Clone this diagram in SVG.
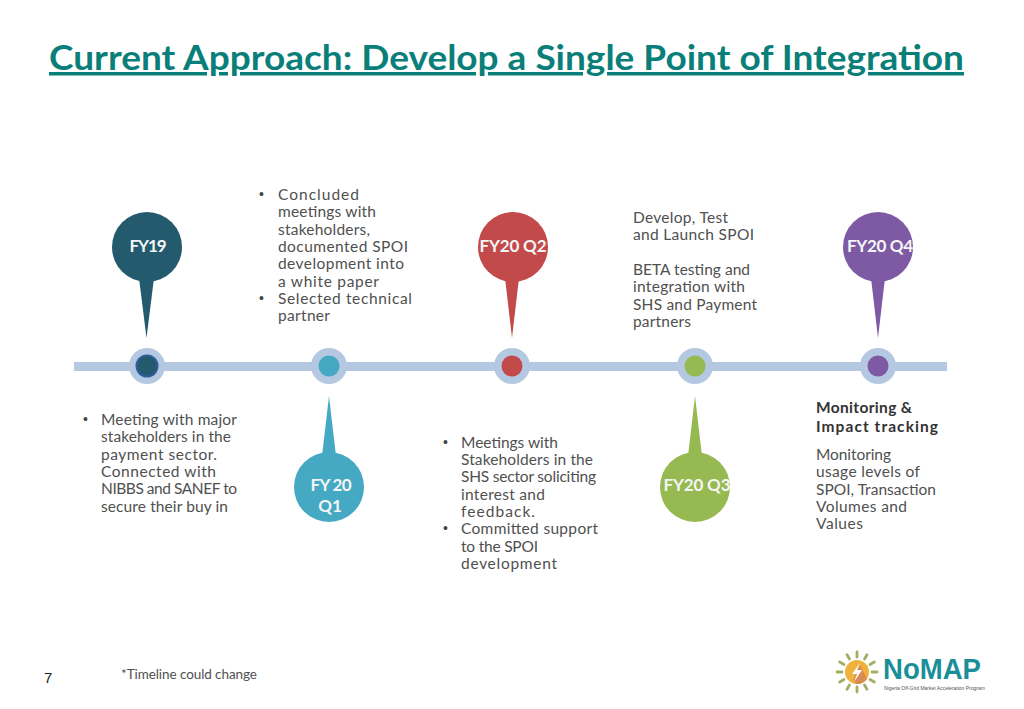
<svg xmlns="http://www.w3.org/2000/svg" width="1024" height="709" viewBox="0 0 1024 709">
<style>
.t{font-family:"Lato","Open Sans",sans-serif;font-size:15.5px;fill:#505050}
.d{font-family:"Liberation Sans",sans-serif;font-size:14px;fill:#444}
.b{font-weight:700;fill:#333}
.p{font-family:"Lato","Open Sans",sans-serif;font-weight:700;font-size:17px;fill:#f4f6f6;text-anchor:middle}
.h{fill:#b4c8e2}
</style>
<rect width="1024" height="709" fill="#fff"/>
<text id="title" x="49" y="70" textLength="915" lengthAdjust="spacingAndGlyphs" style="font-family:'Lato',sans-serif;font-weight:700;font-size:35px;fill:#0a7f7a;text-decoration:underline">Current Approach: Develop a Single Point of Integration</text>
<g id="connectors"><rect class="h" x="74" y="362" width="873" height="9"/></g>
<g id="n1"><circle class="h" cx="147" cy="366" r="18"/><circle cx="147" cy="366" r="11.5" fill="#2f5c9c"/><circle cx="147" cy="366" r="9.5" fill="#235a6e"/>
<path d="M139 278L146.500 338L154 278Z" fill="#235a6e"/><circle cx="147" cy="247" r="35" fill="#235a6e"/><text class="p" x="148" y="252" textLength="37">FY19</text></g>
<g id="n2"><circle class="h" cx="329" cy="366" r="18"/><circle cx="329" cy="366" r="10.5" fill="#45a9c4"/>
<path d="M322 456L329 396L336 456Z" fill="#45a9c4"/><circle cx="329" cy="487" r="35" fill="#45a9c4"/><text class="p" x="331" y="491" textLength="41">FY 20</text><text class="p" x="330" y="512">Q1</text></g>
<g id="n3"><circle class="h" cx="512" cy="366" r="18"/><circle cx="512" cy="366" r="10.5" fill="#c24a4a"/>
<path d="M505 278L512 338L519 278Z" fill="#c24a4a"/><circle cx="513" cy="247" r="35" fill="#c24a4a"/><text class="p" x="513" y="252" textLength="67">FY20 Q2</text></g>
<g id="n4"><circle class="h" cx="695" cy="366" r="18"/><circle cx="695" cy="366" r="10.5" fill="#97b952"/>
<path d="M688 456L695 396L702 456Z" fill="#97b952"/><circle cx="695" cy="487" r="35" fill="#97b952"/><text class="p" x="697" y="491" textLength="67">FY20 Q3</text></g>
<g id="n5"><circle class="h" cx="878" cy="366" r="18"/><circle cx="878" cy="366" r="10.5" fill="#7d5aa3"/>
<path d="M871 278L878 338L885 278Z" fill="#7d5aa3"/><circle cx="878" cy="247" r="35" fill="#7d5aa3"/><text class="p" x="880" y="252" textLength="66">FY20 Q4</text></g>
<g id="text-q1-top">
<text class="d" x="259" y="199">•</text>
<text class="t" x="278" y="200" textLength="81">Concluded</text><text class="t" x="278" y="217" textLength="98">meetings with</text><text class="t" x="278" y="235" textLength="92">stakeholders,</text><text class="t" x="278" y="252" textLength="130">documented SPOI</text><text class="t" x="278" y="269" textLength="126">development into</text><text class="t" x="278" y="287" textLength="101">a white paper</text>
<text class="d" x="259" y="303">•</text><text class="t" x="278" y="304" textLength="134">Selected technical</text><text class="t" x="278" y="321" textLength="52">partner</text></g>
<g id="text-q3-top"><text class="t" x="633" y="223" textLength="95">Develop, Test</text><text class="t" x="633" y="240" textLength="121">and Launch SPOI</text><text class="t" x="633" y="275" textLength="117">BETA testing and</text><text class="t" x="633" y="292" textLength="112">integration with</text><text class="t" x="633" y="310" textLength="124">SHS and Payment</text><text class="t" x="633" y="327" textLength="58">partners</text></g>
<g id="text-fy19"><text class="d" x="83" y="424">•</text><text class="t" x="101" y="425" textLength="136">Meeting with major</text><text class="t" x="101" y="442" textLength="130">stakeholders in the</text><text class="t" x="101" y="460" textLength="116">payment sector.</text><text class="t" x="101" y="477" textLength="115">Connected with</text><text class="t" x="101" y="494" textLength="136">NIBBS and SANEF to</text><text class="t" x="101" y="512" textLength="127">secure their buy in</text></g>
<g id="text-q2"><text class="d" x="443" y="447">•</text><text class="t" x="461" y="448" textLength="97">Meetings with</text><text class="t" x="461" y="465" textLength="132">Stakeholders in the</text><text class="t" x="461" y="482" textLength="135">SHS sector soliciting</text><text class="t" x="461" y="500" textLength="84">interest and</text><text class="t" x="461" y="517" textLength="74">feedback.</text><text class="d" x="443" y="533">•</text><text class="t" x="461" y="534" textLength="137">Committed support</text><text class="t" x="461" y="552" textLength="77">to the SPOI</text><text class="t" x="461" y="569" textLength="96">development</text></g>
<g id="text-q4"><text class="t b" x="816" y="413" textLength="96">Monitoring &amp;</text><text class="t b" x="816" y="432" textLength="122">Impact tracking</text><text class="t" x="816" y="460" textLength="75">Monitoring</text><text class="t" x="816" y="477" textLength="104">usage levels of</text><text class="t" x="816" y="495" textLength="120">SPOI, Transaction</text><text class="t" x="816" y="512" textLength="91">Volumes and</text><text class="t" x="816" y="529" textLength="47">Values</text></g>
<text id="page" x="44" y="683" style="font-family:'Liberation Sans',sans-serif;font-size:15px;fill:#222">7</text>
<text id="note" x="121" y="679" textLength="136" style="font-family:'Lato',sans-serif;font-size:13.5px;fill:#505050">*Timeline could change</text>
<g id="logo">
<g stroke="#a3ad66" stroke-width="2.800" stroke-linecap="round"><path d="M857 652V657M857 687V692M837 672H842M872 672H877M847 654.700L849.500 659M864.500 685L867 689.300M867 654.700L864.500 659M849.500 685L847 689.300M839.700 662L844 664.500M870 679.500L874.300 682M874.300 662L870 664.500M844 679.500L839.700 682"/></g>
<circle cx="857" cy="672" r="12" fill="#f0b23c"/><path d="M860 665L867 679A12 12 0 0 1 856 684L853 680Z" fill="#d98c52"/><path d="M860 663L852 674H857L854 682L862 670H857Z" fill="#fff"/>
<text x="883" y="679" style="font-family:'Liberation Sans',sans-serif;font-weight:700;font-size:30px;fill:#1b8f98" textLength="98" lengthAdjust="spacingAndGlyphs">NoMAP</text>
<text x="884" y="690" style="font-family:'Liberation Sans',sans-serif;font-size:5px;fill:#555" textLength="101" lengthAdjust="spacingAndGlyphs">Nigeria Off-Grid Market Acceleration Program</text></g>
</svg>
